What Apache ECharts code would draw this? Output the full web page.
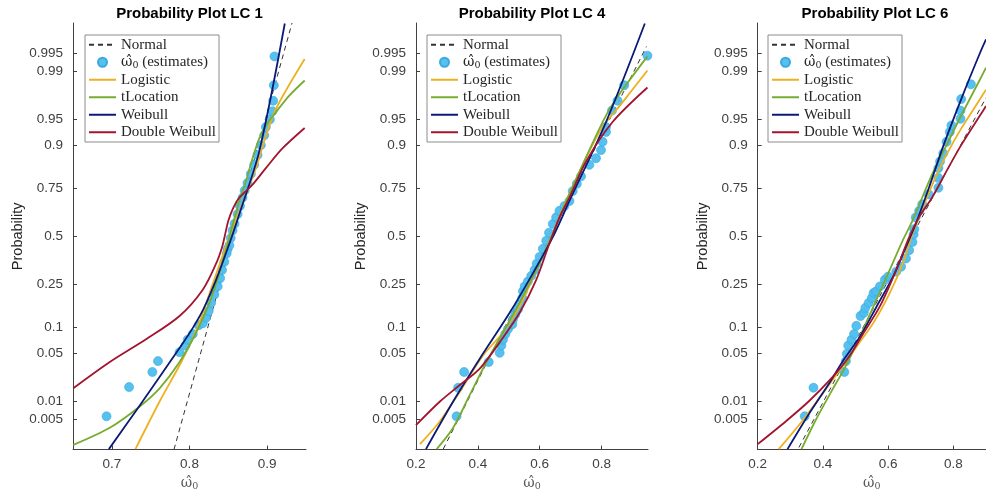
<!DOCTYPE html>
<html>
<head>
<meta charset="utf-8">
<script src="https://cdn.jsdelivr.net/npm/echarts@6/dist/echarts.min.js"></script>
<style>html,body{margin:0;padding:0;background:#fff;}#c{width:986px;height:497px;}</style>
</head>
<body>
<div id="c"></div>
<script>
// ---------- data (x = omega_0 estimate, p = probability) ----------
const probTicks = [0.005, 0.01, 0.05, 0.1, 0.25, 0.5, 0.75, 0.9, 0.95, 0.99, 0.995];
const probTickText = ['0.005', '0.01', '0.05', '0.1', '0.25', '0.5', '0.75', '0.9', '0.95', '0.99', '0.995'];
const xTicksLC1 = [0.7, 0.8, 0.9];
const xTicksLC4 = [0.2, 0.4, 0.6, 0.8];
const xTicksLC6 = [0.2, 0.4, 0.6, 0.8];
const titles = ['Probability Plot LC 1', 'Probability Plot LC 4', 'Probability Plot LC 6'];
const seriesNames = ['Normal', 'ω̂₀ (estimates)', 'Logistic', 'tLocation', 'Weibull', 'Double Weibull'];

// LC 1
const lc1Normal = [[0.780, 0.00135], [0.932, 0.99865]];
const lc1Est = [[0.6932,0.00568],[0.7222,0.0170],[0.7522,0.0282],[0.7594,0.0396],[0.7872,0.0516],[0.7949,0.0622],[0.7978,0.0730],[0.8042,0.0846],[0.8119,0.1055],[0.8171,0.1107],[0.8214,0.1261],[0.8247,0.1464],[0.8278,0.1745],[0.8321,0.2061],[0.8363,0.2404],[0.8394,0.2776],[0.8419,0.3178],[0.8449,0.3598],[0.8478,0.4040],[0.8490,0.4270],[0.8513,0.4495],[0.8530,0.4900],[0.8554,0.5323],[0.8580,0.5700],[0.8619,0.6221],[0.8650,0.6650],[0.8683,0.7065],[0.8710,0.7400],[0.8747,0.7737],[0.8790,0.8100],[0.8833,0.8425],[0.8876,0.8737],[0.8919,0.9001],[0.8962,0.9223],[0.8983,0.9378],[0.9035,0.9498],[0.9068,0.9607],[0.9077,0.9717],[0.9086,0.9832],[0.9094,0.9943]];
const lc1Logistic = [[0.7304,0.00138],[0.7615,0.01007],[0.7894,0.0385],[0.8106,0.1014],[0.8299,0.2505],[0.8513,0.4952],[0.8727,0.7220],[0.8855,0.8311],[0.8974,0.9154],[0.9112,0.9633],[0.9483,0.99368]];
const lc1TLoc = [[0.6504,0.00168],[0.6974,0.00355],[0.7359,0.00836],[0.7615,0.01628],[0.7872,0.0385],[0.8086,0.0880],[0.8256,0.1745],[0.8385,0.3012],[0.8513,0.4952],[0.8641,0.6904],[0.8727,0.7807],[0.8812,0.8639],[0.8897,0.9154],[0.8983,0.9406],[0.9112,0.9595],[0.9282,0.9759],[0.9483,0.9858]];
const lc1Weibull = [[0.6962,0.00138],[0.7337,0.00787],[0.7894,0.0622],[0.8051,0.1014],[0.8179,0.1528],[0.8342,0.2703],[0.8513,0.4582],[0.8641,0.6221],[0.8897,0.8831],[0.9227,0.99862]];
const lc1DWeibull = [[0.6504,0.01628],[0.6974,0.0385],[0.7445,0.0742],[0.7872,0.1312],[0.8171,0.2263],[0.8342,0.3500],[0.8420,0.4400],[0.8460,0.5136],[0.8500,0.5871],[0.8565,0.6569],[0.8641,0.7065],[0.8812,0.7664],[0.8983,0.8311],[0.9196,0.8917],[0.9483,0.9362]];

// LC 4
const lc4Normal = [[0.288, 0.00138], [0.945, 0.9962]];
const lc4Est = [[0.3311,0.00568],[0.3362,0.0166],[0.3556,0.0282],[0.4351,0.0385],[0.4705,0.0506],[0.4760,0.0622],[0.4812,0.0730],[0.4889,0.0846],[0.4973,0.0958],[0.5114,0.1081],[0.5134,0.1216],[0.5211,0.1361],[0.5295,0.1518],[0.5349,0.1688],[0.5436,0.1927],[0.5456,0.2193],[0.5511,0.2404],[0.5617,0.2624],[0.5726,0.2888],[0.5833,0.3178],[0.5900,0.3500],[0.5994,0.3859],[0.6100,0.4300],[0.6210,0.4750],[0.6300,0.5200],[0.6422,0.5687],[0.6530,0.6050],[0.6637,0.6398],[0.6800,0.6650],[0.6960,0.6904],[0.7066,0.7376],[0.7200,0.7700],[0.7336,0.8007],[0.7604,0.8425],[0.7820,0.8639],[0.7981,0.8874],[0.8032,0.9081],[0.8142,0.9289],[0.8142,0.9378],[0.8335,0.9615],[0.8515,0.9717],[0.8731,0.9832],[0.9482,0.99446]];
const lc4Logistic = [[0.2129,0.00173],[0.2773,0.00465],[0.3417,0.01445],[0.4168,0.0469],[0.4812,0.0880],[0.5349,0.1628],[0.5887,0.3178],[0.6422,0.5136],[0.6853,0.6904],[0.7926,0.9289],[0.8676,0.9702],[0.9482,0.99015]];
const lc4TLoc = [[0.2667,0.00138],[0.3201,0.00355],[0.3739,0.01285],[0.4277,0.0385],[0.4812,0.0880],[0.5349,0.1745],[0.5887,0.3178],[0.6422,0.5136],[0.6905,0.7065],[0.8032,0.9460],[0.8464,0.9732],[0.9482,0.9943]];
const lc4Weibull = [[0.2322,0.00138],[0.3201,0.01007],[0.4061,0.0425],[0.5027,0.1410],[0.5778,0.3012],[0.6422,0.4952],[0.6960,0.6904],[0.8142,0.9460],[0.9398,0.99862]];
const lc4DWeibull = [[0.2,0.00394],[0.2773,0.01007],[0.3417,0.01822],[0.4061,0.0314],[0.4705,0.0679],[0.5349,0.1410],[0.5887,0.2703],[0.6310,0.4582],[0.6638,0.6049],[0.6960,0.7065],[0.7498,0.8536],[0.8354,0.9460],[0.9482,0.9818]];

// LC 6
const lc6Normal = [[0.3263, 0.00149], [0.9, 0.9744]];
const lc6Est = [[0.3442,0.00568],[0.3710,0.0166],[0.4657,0.0282],[0.4705,0.0396],[0.4735,0.0492],[0.4776,0.0622],[0.4875,0.0730],[0.4955,0.0846],[0.5024,0.1039],[0.5152,0.1312],[0.5254,0.1410],[0.5301,0.1572],[0.5403,0.1745],[0.5501,0.1927],[0.5552,0.2124],[0.5630,0.2193],[0.5749,0.2404],[0.5899,0.2703],[0.6000,0.2854],[0.6248,0.3096],[0.6397,0.3343],[0.6546,0.3771],[0.6645,0.4223],[0.6746,0.4677],[0.6780,0.5100],[0.6800,0.5400],[0.6845,0.6049],[0.6950,0.6400],[0.7045,0.6736],[0.7242,0.7220],[0.7540,0.7524],[0.7540,0.7939],[0.7540,0.8311],[0.7591,0.8536],[0.7690,0.8784],[0.7791,0.9081],[0.7890,0.9289],[0.7940,0.9406],[0.8218,0.9508],[0.8218,0.9615],[0.8239,0.9732],[0.8537,0.98374]];
const lc6Logistic = [[0.2645,0.00138],[0.3361,0.00465],[0.3958,0.01285],[0.4555,0.0314],[0.5054,0.0621],[0.5552,0.1124],[0.6048,0.2124],[0.6448,0.3512],[0.6746,0.5136],[0.7442,0.7942],[0.7839,0.8831],[0.8239,0.9350],[0.8815,0.9731],[0.9,0.9804]];
const lc6TLoc = [[0.3343,0.00138],[0.3761,0.00465],[0.4257,0.01445],[0.4657,0.0314],[0.5054,0.0679],[0.5552,0.1628],[0.6048,0.3178],[0.6448,0.4769],[0.6746,0.5871],[0.7343,0.8068],[0.7839,0.9081],[0.8239,0.9553],[0.8815,0.9863],[0.9,0.99113]];
const lc6Weibull = [[0.2914,0.00138],[0.3561,0.0061],[0.4158,0.01822],[0.4657,0.0425],[0.5152,0.0809],[0.5651,0.1628],[0.6149,0.2854],[0.6546,0.4404],[0.6845,0.5687],[0.7250,0.7524],[0.7700,0.9001],[0.8280,0.9759],[0.8815,0.99503],[0.9,0.9972]];
const lc6DWeibull = [[0.2,0.00173],[0.2866,0.00465],[0.3561,0.01007],[0.4257,0.0228],[0.4755,0.0425],[0.5254,0.0880],[0.5749,0.1628],[0.6248,0.3178],[0.6645,0.4952],[0.6943,0.6049],[0.7343,0.7065],[0.7839,0.8311],[0.8239,0.9001],[0.8815,0.9553],[0.9,0.9665]];

// ---------- normal probability scale (inverse normal CDF) ----------
function probit(p) {
  const a = [-3.969683028665376e+01, 2.209460984245205e+02, -2.759285104469687e+02, 1.383577518672690e+02, -3.066479806614716e+01, 2.506628277459239e+00];
  const b = [-5.447609879822406e+01, 1.615858368580409e+02, -1.556989798598866e+02, 6.680131188771972e+01, -1.328068155288572e+01];
  const c = [-7.784894002430293e-03, -3.223964580411365e-01, -2.400758277161838e+00, -2.549732539343734e+00, 4.374664141464968e+00, 2.938163982698783e+00];
  const d = [7.784695709041462e-03, 3.224671290700398e-01, 2.445134137142996e+00, 3.754408661907416e+00];
  const pl = 0.02425;
  if (p < pl) {
    const q = Math.sqrt(-2 * Math.log(p));
    return (((((c[0]*q+c[1])*q+c[2])*q+c[3])*q+c[4])*q+c[5]) / ((((d[0]*q+d[1])*q+d[2])*q+d[3])*q+1);
  }
  if (p <= 1 - pl) {
    const q = p - 0.5, r = q * q;
    return (((((a[0]*r+a[1])*r+a[2])*r+a[3])*r+a[4])*r+a[5])*q / (((((b[0]*r+b[1])*r+b[2])*r+b[3])*r+b[4])*r+1);
  }
  const q = Math.sqrt(-2 * Math.log(1 - p));
  return -(((((c[0]*q+c[1])*q+c[2])*q+c[3])*q+c[4])*q+c[5]) / ((((d[0]*q+d[1])*q+d[2])*q+d[3])*q+1);
}
const toZ = arr => arr.map(d => [d[0], probit(d[1])]);
const zTicks = probTicks.map(probit);
function probLabel(v) {
  let best = 0;
  for (let i = 1; i < zTicks.length; i++) if (Math.abs(zTicks[i] - v) < Math.abs(zTicks[best] - v)) best = i;
  return probTickText[best];
}

// ---------- layout ----------
const panels = [
  { left: 73, width: 233, xMin: 0.65, xMax: 0.95, xTicks: xTicksLC1, legendLeft: 85,
    data: [lc1Normal, lc1Est, lc1Logistic, lc1TLoc, lc1Weibull, lc1DWeibull] },
  { left: 416, width: 232, xMin: 0.2, xMax: 0.95, xTicks: xTicksLC4, legendLeft: 427,
    data: [lc4Normal, lc4Est, lc4Logistic, lc4TLoc, lc4Weibull, lc4DWeibull] },
  { left: 757.7, width: 234.5, xMin: 0.2, xMax: 0.9, xTicks: xTicksLC6, legendLeft: 768,
    data: [lc6Normal, lc6Est, lc6Logistic, lc6TLoc, lc6Weibull, lc6DWeibull] }
];
const lineColors = [null, null, '#EDB120', '#77AC30', '#0B1A78', '#A2142F'];
const axisColor = '#404040';
const serifFont = 'Liberation Serif, DejaVu Serif, serif';
const labelFont = { fontFamily: 'Liberation Sans, Arial, sans-serif', fontSize: 13.5, color: '#404040' };
const omegaRich = {
  w: { fontFamily: 'DejaVu Serif, serif', fontSize: 13.5, color: 'inherit' },
  s: { fontFamily: 'DejaVu Serif, serif', fontSize: 9, padding: [6, 0, 0, 0] }
};

const grid = [], xAxis = [], yAxis = [], series = [], title = [], legend = [];
panels.forEach((p, i) => {
  grid.push({ left: p.left, top: 23, width: p.width, height: 432, containLabel: false });
  title.push({ text: titles[i], left: p.left + p.width / 2, top: 6, textAlign: 'center', padding: 0,
    textStyle: { fontFamily: 'Liberation Sans, Arial, sans-serif', fontWeight: 'bold', fontSize: 15, color: '#000' } });
  xAxis.push({
    type: 'value', gridIndex: i, min: p.xMin, max: p.xMax,
    axisLine: { show: true, onZero: false, lineStyle: { color: axisColor, width: 1 } },
    axisTick: { show: true, inside: true, length: 4, customValues: p.xTicks, lineStyle: { color: axisColor } },
    axisLabel: Object.assign({ customValues: p.xTicks, margin: 8, formatter: v => v.toFixed(1) }, labelFont),
    splitLine: { show: false },
    name: '{w|ω̂}{s|0}', nameLocation: 'middle', nameGap: 22,
    nameTextStyle: { fontFamily: 'DejaVu Serif, serif', fontSize: 14, color: '#595959',
      rich: { w: { fontSize: 14, color: '#595959' }, s: { fontSize: 9.5, color: '#595959', padding: [7, 0, 0, 0] } } }
  });
  yAxis.push({
    type: 'value', gridIndex: i, min: -3, max: 3,
    axisLine: { show: true, onZero: false, lineStyle: { color: axisColor, width: 1 } },
    axisTick: { show: true, inside: true, length: 4, customValues: zTicks, lineStyle: { color: axisColor } },
    axisLabel: Object.assign({ customValues: zTicks, margin: 10, formatter: probLabel }, labelFont),
    splitLine: { show: false },
    name: 'Probability', nameLocation: 'middle', nameGap: 47,
    nameTextStyle: { fontFamily: 'Liberation Sans, Arial, sans-serif', fontSize: 14.5, color: '#262626' }
  });
  p.data.forEach((arr, k) => {
    const base = { name: seriesNames[k], xAxisIndex: i, yAxisIndex: i, data: toZ(arr), silent: true, animation: false };
    if (k === 0) {
      series.push(Object.assign(base, { type: 'line', symbol: 'none', z: 2,
        lineStyle: { color: '#333333', width: 1, type: [5, 4] }, itemStyle: { color: '#333333' } }));
    } else if (k === 1) {
      series.push(Object.assign(base, { type: 'scatter', symbol: 'circle', symbolSize: 9, z: 3,
        itemStyle: { color: '#4DBEEE', borderColor: '#35A6DB', borderWidth: 0.6, opacity: 0.95 } }));
    } else {
      series.push(Object.assign(base, { type: 'line', symbol: 'none', smooth: 0.3, z: 4 + k,
        lineStyle: { color: lineColors[k], width: 1.8 }, itemStyle: { color: lineColors[k] } }));
    }
  });
  legend.push({
    left: p.legendLeft, top: 35, orient: 'vertical',
    data: seriesNames.map((n, k) => k === 1 ? { name: n } : { name: n, itemStyle: { opacity: 0 } }),
    formatter: n => n === seriesNames[1] ? '{w|ω̂}{s|0} (estimates)' : n,
    itemWidth: 27, itemHeight: 9, itemGap: 0, padding: [1, 3, 1, 3],
    backgroundColor: '#fff', borderColor: '#8c8c8c', borderWidth: 1, borderRadius: 0,
    selectedMode: false, z: 20,
    textStyle: { fontFamily: serifFont, fontSize: 15, color: '#262626', lineHeight: 17.5,
      rich: { w: { fontFamily: 'DejaVu Serif, serif', fontSize: 14, color: '#262626', lineHeight: 17.5 },
              s: { fontFamily: 'DejaVu Serif, serif', fontSize: 9.5, color: '#262626', lineHeight: 17.5, padding: [6, 0, 0, 0] } } }
  });
});

const chart = echarts.init(document.getElementById('c'), null, { renderer: 'canvas' });
chart.setOption({ animation: false, backgroundColor: '#fff', title, legend, grid, xAxis, yAxis, series });
</script>
</body>
</html>
